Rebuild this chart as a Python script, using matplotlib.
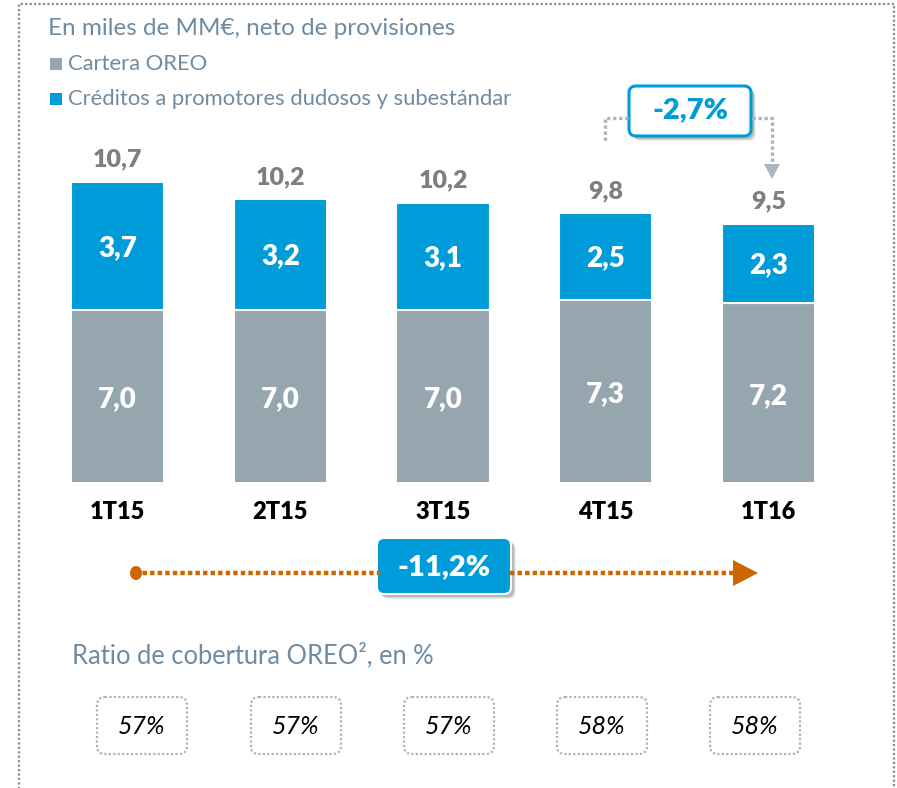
import matplotlib
matplotlib.use("Agg")
import matplotlib.pyplot as plt
from matplotlib.patches import FancyBboxPatch, Rectangle, Polygon, Ellipse

plt.rcParams['font.family'] = ['Lato', 'DejaVu Sans']

# ---------------- data ----------------
categories = ['1T15', '2T15', '3T15', '4T15', '1T16']
oreo = [7.0, 7.0, 7.0, 7.3, 7.2]
promotores = [3.7, 3.2, 3.1, 2.5, 2.3]
totals = [10.7, 10.2, 10.2, 9.8, 9.5]
coverage = [57, 57, 57, 58, 58]
change_quarter = -2.7
change_year = -11.2

title = 'En miles de MM€, neto de provisiones'
legend_labels = ['Cartera OREO', 'Créditos a promotores dudosos y subestándar']
ratio_title = 'Ratio de cobertura OREO², en %'

# ---------------- style ----------------
BLUE = '#009bd9'
GRAY = '#96a6ae'
SLATE = '#6f8ba2'
LABEL_GRAY = '#7f7f7f'
DOT_GRAY = '#a9b6bf'
ORANGE = '#cc6600'
BORDER = '#8c8c8c'
HEAVY = 'heavy'

W, H = 897, 788
fig = plt.figure(figsize=(W / 100, H / 100), dpi=100)

def fmt(v, nd=1):
    return f'{v:.{nd}f}'.replace('.', ',')

# ---------------- bar axes ----------------
ax_left, ax_right = 36.1, 849.9
ax_bottom, ax_top = 482, 140
ax = fig.add_axes([ax_left / W, 1 - ax_bottom / H, (ax_right - ax_left) / W, (ax_bottom - ax_top) / H])
y0 = 2.03
ax.set_ylim(y0, y0 + (ax_bottom - ax_top) / 34.6)
ax.set_xlim(-0.5, len(categories) - 0.5)
x = list(range(len(categories)))
bw = 0.572
ax.bar(x, oreo, width=bw, color=GRAY, edgecolor='white', linewidth=1.5)
ax.bar(x, promotores, bottom=oreo, width=bw, color=BLUE, edgecolor='white', linewidth=1.5)
for i in x:
    lo = max(0, y0)
    ax.text(i, (lo + oreo[i]) / 2 - 0.1, fmt(oreo[i]), ha='center', va='center',
            color='white', fontsize=20, fontweight=HEAVY)
    ax.text(i, oreo[i] + promotores[i] / 2 - 0.05, fmt(promotores[i]), ha='center', va='center',
            color='white', fontsize=20, fontweight=HEAVY)
    ax.annotate(fmt(totals[i]), (i, oreo[i] + promotores[i]), xytext=(0, 11),
                textcoords='offset points', ha='center', va='baseline',
                color=LABEL_GRAY, fontsize=18, fontweight=HEAVY)
ax.set_xticks(x)
ax.set_xticklabels(categories, fontsize=17, fontweight=HEAVY, color='black')
ax.tick_params(axis='x', length=0, pad=14)
ax.set_yticks([])
for s in ax.spines.values():
    s.set_visible(False)
ax.patch.set_alpha(0)

# ---------------- overlay (pixel coords) ----------------
ov = fig.add_axes([0, 0, 1, 1], zorder=5)
ov.set_xlim(0, W)
ov.set_ylim(H, 0)
ov.axis('off')
ov.patch.set_alpha(0)

# outer dotted border
ov.plot([19, 19, 894, 894], [800, 4, 4, 800], color=BORDER, lw=1.6,
        linestyle=(0, (1, 1)), solid_capstyle='butt')

# title & legend
ov.text(48, 28, title, fontsize=17.5, color=SLATE, va='center', ha='left')
ov.add_patch(Rectangle((50, 58), 12, 12, color=GRAY, lw=0))
ov.text(68, 64, legend_labels[0], fontsize=15.8, color=SLATE, va='center', ha='left')
ov.add_patch(Rectangle((50, 93), 12, 12, color=BLUE, lw=0))
ov.text(68, 99, legend_labels[1], fontsize=15.8, color=SLATE, va='center', ha='left')

def shadow_box(x0, y0_, w, h, r, face, edge, lw):
    for k, a in [(5, 0.06), (4, 0.10), (3, 0.14)]:
        ov.add_patch(FancyBboxPatch((x0 + k, y0_ + k), w, h,
                                    boxstyle=f'round,pad=0,rounding_size={r}',
                                    facecolor='black', edgecolor='none', alpha=a))
    ov.add_patch(FancyBboxPatch((x0, y0_), w, h,
                                boxstyle=f'round,pad=0,rounding_size={r}',
                                facecolor=face, edgecolor=edge, lw=lw))

# quarter change callout
dot = (0, (1, 0.8))
ov.plot([628, 605, 605], [118, 118, 142], color=DOT_GRAY, lw=2.4, linestyle=dot)
ov.plot([752, 772, 772], [118, 118, 164], color=DOT_GRAY, lw=2.4, linestyle=dot)
ov.add_patch(Polygon([(764, 164), (780, 164), (772, 179)], closed=True, color=DOT_GRAY, lw=0))
shadow_box(629, 86, 122, 50, 7, 'white', BLUE, 2.2)
ov.text(690, 110, fmt(change_quarter) + '%', ha='center', va='center',
        color=BLUE, fontsize=21, fontweight=HEAVY)

# year change arrow
ov.plot([135, 380], [573, 573], color=ORANGE, lw=3.2, linestyle=(0, (1, 0.7)))
ov.plot([510, 735], [573, 573], color=ORANGE, lw=3.2, linestyle=(0, (1, 0.7)))
ov.add_patch(Ellipse((136, 573), 12, 14, color=ORANGE, lw=0))
ov.add_patch(Polygon([(733, 560), (733, 586), (758, 573)], closed=True, color=ORANGE, lw=0))
shadow_box(377, 538, 134, 56, 7, BLUE, 'white', 1.5)
ov.text(444, 567, fmt(change_year) + '%', ha='center', va='center',
        color='white', fontsize=21, fontweight=HEAVY)

# coverage ratio
ov.text(72, 655, ratio_title, fontsize=18.4, color=SLATE, va='center', ha='left')
box_x = [97, 251, 404, 557, 710]
for bx, v in zip(box_x, coverage):
    ov.add_patch(FancyBboxPatch((bx, 697), 90, 57,
                                boxstyle='round,pad=0,rounding_size=8',
                                facecolor='none', edgecolor=DOT_GRAY, lw=1.6,
                                linestyle=(0, (1, 1))))
    ov.text(bx + 45, 726, f'{v}%', ha='center', va='center', fontsize=18,
            style='italic', color='black')

fig.savefig('out.png', dpi=100)
